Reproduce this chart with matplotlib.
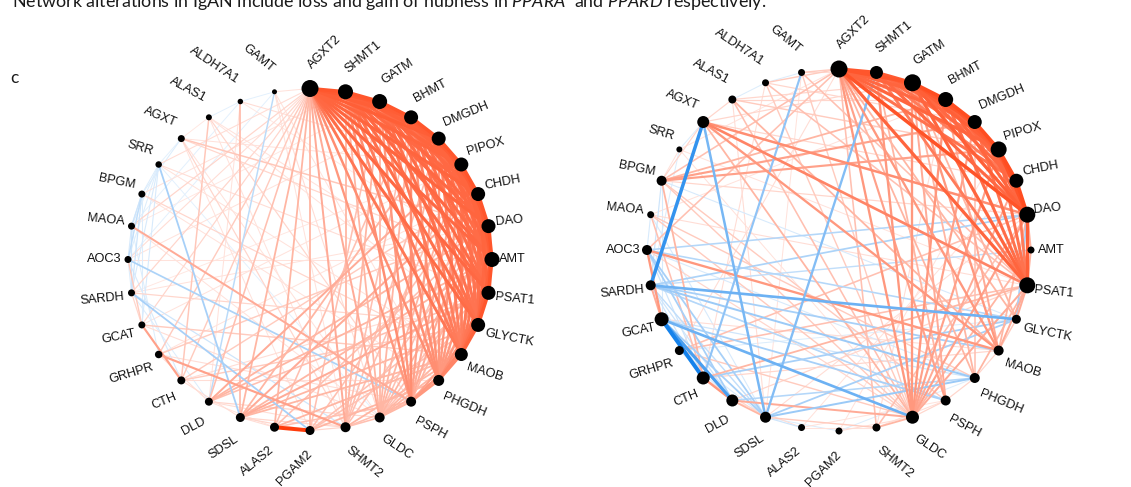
"""
IgAN 代谢网络对比图 (panel c)
左: 对照组网络, 右: IgAN 网络
"""

import numpy as np
import matplotlib
matplotlib.use('Agg')
import matplotlib.pyplot as plt

# ===== 数据 =====
genes = ["AGXT2", "SHMT1", "GATM", "BHMT", "DMGDH", "PIPOX", "CHDH", "DAO",
         "AMT", "PSAT1", "GLYCTK", "MAOB", "PHGDH", "PSPH", "GLDC", "SHMT2",
         "PGAM2", "ALAS2", "SDSL", "DLD", "CTH", "GRHPR", "GCAT", "SARDH",
         "AOC3", "MAOA", "BPGM", "SRR", "AGXT", "ALAS1", "ALDH7A1", "GAMT"]

# 节点直径 (hubness)
left_hub = [17, 15, 15, 14, 14, 14, 14, 14, 15, 14, 14, 13, 11, 10, 10, 10,
            9, 9, 9, 8, 8, 7.5, 7, 7, 7, 7, 7, 6.5, 7, 6, 5.5, 5]
right_hub = [17, 13, 17, 15, 14, 16, 14, 16, 7, 16, 9, 10, 10, 10, 13, 8,
             7, 7, 11, 12, 13, 9, 14, 10, 10, 7, 10, 6, 12, 8, 7, 7]

left_edges = [
    # hub 团
    ("AGXT2", "SHMT1", .80), ("AGXT2", "GATM", .78), ("AGXT2", "BHMT", .75),
    ("AGXT2", "DMGDH", .75), ("AGXT2", "PIPOX", .72), ("AGXT2", "CHDH", .72),
    ("AGXT2", "DAO", .72), ("AGXT2", "AMT", .70), ("AGXT2", "PSAT1", .70),
    ("AGXT2", "GLYCTK", .68), ("AGXT2", "MAOB", .62),
    ("SHMT1", "GATM", .80), ("SHMT1", "BHMT", .76), ("SHMT1", "DMGDH", .74),
    ("SHMT1", "PIPOX", .72), ("SHMT1", "CHDH", .70), ("SHMT1", "DAO", .70),
    ("SHMT1", "AMT", .70), ("SHMT1", "PSAT1", .68), ("SHMT1", "GLYCTK", .66),
    ("SHMT1", "MAOB", .60),
    ("GATM", "BHMT", .80), ("GATM", "DMGDH", .76), ("GATM", "PIPOX", .72),
    ("GATM", "CHDH", .70), ("GATM", "DAO", .70), ("GATM", "AMT", .68),
    ("GATM", "PSAT1", .68), ("GATM", "GLYCTK", .66), ("GATM", "MAOB", .60),
    ("BHMT", "DMGDH", .80), ("BHMT", "PIPOX", .76), ("BHMT", "CHDH", .72),
    ("BHMT", "DAO", .70), ("BHMT", "AMT", .68), ("BHMT", "PSAT1", .66),
    ("BHMT", "GLYCTK", .64), ("BHMT", "MAOB", .58),
    ("DMGDH", "PIPOX", .80), ("DMGDH", "CHDH", .76), ("DMGDH", "DAO", .72),
    ("DMGDH", "AMT", .70), ("DMGDH", "PSAT1", .66), ("DMGDH", "GLYCTK", .64),
    ("DMGDH", "MAOB", .58),
    ("PIPOX", "CHDH", .80), ("PIPOX", "DAO", .76), ("PIPOX", "AMT", .72),
    ("PIPOX", "PSAT1", .68), ("PIPOX", "GLYCTK", .64), ("PIPOX", "MAOB", .58),
    ("CHDH", "DAO", .80), ("CHDH", "AMT", .76), ("CHDH", "PSAT1", .72),
    ("CHDH", "GLYCTK", .66), ("CHDH", "MAOB", .60),
    ("DAO", "AMT", .80), ("DAO", "PSAT1", .76), ("DAO", "GLYCTK", .70),
    ("DAO", "MAOB", .62),
    ("AMT", "PSAT1", .80), ("AMT", "GLYCTK", .74), ("AMT", "MAOB", .64),
    ("PSAT1", "GLYCTK", .80), ("PSAT1", "MAOB", .68), ("GLYCTK", "MAOB", .72),
    # hub -> 下方节点
    ("PHGDH", "AGXT2", .50), ("PHGDH", "SHMT1", .50), ("PHGDH", "GATM", .50),
    ("PHGDH", "BHMT", .48), ("PHGDH", "DMGDH", .45), ("PHGDH", "PIPOX", .45),
    ("PHGDH", "CHDH", .45), ("PHGDH", "DAO", .45), ("PHGDH", "AMT", .45),
    ("PHGDH", "PSAT1", .50), ("PHGDH", "GLYCTK", .55), ("PHGDH", "MAOB", .55),
    ("PSPH", "AGXT2", .45), ("PSPH", "SHMT1", .50), ("PSPH", "GATM", .45),
    ("PSPH", "BHMT", .50), ("PSPH", "DMGDH", .40), ("PSPH", "PIPOX", .35),
    ("PSPH", "CHDH", .35), ("PSPH", "DAO", .30), ("PSPH", "GLYCTK", .40),
    ("PSPH", "MAOB", .45), ("PSPH", "PHGDH", .45),
    ("GLDC", "AGXT2", .35), ("GLDC", "SHMT1", .30), ("GLDC", "GATM", .30),
    ("GLDC", "BHMT", .30), ("GLDC", "DMGDH", .30), ("GLDC", "PIPOX", .30),
    ("GLDC", "CHDH", .25), ("GLDC", "DAO", .30), ("GLDC", "AMT", .25),
    ("GLDC", "PSAT1", .25), ("GLDC", "GLYCTK", .30), ("GLDC", "MAOB", .30),
    ("GLDC", "PHGDH", .30), ("GLDC", "PSPH", .30),
    ("SHMT2", "AGXT2", .35), ("SHMT2", "SHMT1", .30), ("SHMT2", "GATM", .30),
    ("SHMT2", "BHMT", .25), ("SHMT2", "DMGDH", .25), ("SHMT2", "PIPOX", .25),
    ("SHMT2", "DAO", .25), ("SHMT2", "MAOB", .30), ("SHMT2", "PSPH", .25),
    ("SHMT2", "GLDC", .25),
    ("PGAM2", "AGXT2", .30), ("PGAM2", "GATM", .25), ("PGAM2", "CHDH", .25),
    ("PGAM2", "PSAT1", .25), ("PGAM2", "PHGDH", .30), ("PGAM2", "GLYCTK", .25),
    ("ALAS2", "AGXT2", .30), ("ALAS2", "BHMT", .25), ("ALAS2", "DAO", .25),
    ("ALAS2", "MAOB", .30), ("ALAS2", "PSPH", .25), ("ALAS2", "PGAM2", .95),
    ("SDSL", "AGXT2", .30), ("SDSL", "DMGDH", .30), ("SDSL", "CHDH", .35),
    ("SDSL", "AMT", .30), ("SDSL", "PSAT1", .35), ("SDSL", "GLYCTK", .30),
    ("SDSL", "MAOB", .30),
    ("DLD", "AGXT2", .25), ("DLD", "PIPOX", .35), ("DLD", "DAO", .30),
    ("DLD", "AMT", .30), ("DLD", "PSAT1", .25),
    ("CTH", "AGXT2", .20), ("CTH", "CHDH", .20), ("CTH", "GLYCTK", .20),
    ("GRHPR", "AGXT2", .20), ("GRHPR", "SHMT2", .40), ("GRHPR", "DAO", .20),
    ("GCAT", "AGXT2", .15), ("GCAT", "CTH", .40), ("GCAT", "MAOB", .20),
    ("SARDH", "AGXT2", .15), ("SARDH", "PGAM2", -.30), ("SARDH", "SHMT2", -.15),
    ("SARDH", "GLYCTK", .15),
    ("AOC3", "PSPH", -.28), ("AOC3", "GCAT", .20), ("AOC3", "AGXT2", .12),
    ("MAOA", "PSPH", .35), ("MAOA", "AGXT2", .15), ("MAOA", "BPGM", -.15),
    ("MAOA", "SARDH", -.15),
    ("BPGM", "AOC3", -.20), ("BPGM", "SARDH", -.15), ("BPGM", "MAOB", .15),
    ("SRR", "SDSL", -.30), ("SRR", "PSAT1", .12), ("SRR", "AGXT2", .12),
    ("SRR", "GCAT", -.12),
    ("AGXT", "DAO", .22), ("AGXT", "AMT", .15), ("AGXT", "SHMT2", .15),
    ("ALAS1", "CTH", .22), ("ALAS1", "PSPH", .15),
    ("ALDH7A1", "SDSL", .28), ("ALDH7A1", "PIPOX", .12),
    ("GAMT", "DLD", -.22), ("GAMT", "AGXT2", .10), ("GAMT", "GLDC", .12),
    # 背景弱连接
    ("BPGM", "PHGDH", .10), ("SRR", "MAOB", .10), ("AGXT", "GLDC", .10),
    ("ALAS1", "PSAT1", .10), ("ALDH7A1", "DLD", .10), ("GAMT", "SHMT2", .10),
    ("MAOA", "GLDC", .10), ("AOC3", "AMT", .10), ("SARDH", "DAO", .10),
    ("GCAT", "PIPOX", .10), ("GRHPR", "CHDH", .10), ("CTH", "PSAT1", .12),
    ("DLD", "GLDC", .15), ("SDSL", "SHMT2", .15), ("CTH", "SDSL", .12),
    ("GRHPR", "DLD", .12), ("GCAT", "SARDH", .15), ("SRR", "BPGM", -.10),
    ("BPGM", "MAOA", -.12), ("MAOA", "AOC3", -.12), ("AOC3", "SARDH", -.10),
    ("SRR", "MAOA", -.10), ("SRR", "AOC3", -.10), ("AGXT", "SRR", -.08),
    ("ALDH7A1", "ALAS1", -.08), ("ALAS1", "AGXT", .08), ("GAMT", "ALDH7A1", -.08),
    ("BPGM", "SHMT1", .10), ("MAOA", "GATM", .08), ("AOC3", "BHMT", .10),
    ("SARDH", "PIPOX", .08), ("GCAT", "GLDC", .12), ("GRHPR", "PSPH", .12),
    ("CTH", "PHGDH", .12), ("DLD", "SHMT2", .12), ("SDSL", "PGAM2", .15),
    ("ALAS2", "SDSL", .12), ("ALAS2", "DLD", .10), ("PGAM2", "SHMT2", .15),
    ("AGXT", "BPGM", -.10), ("SRR", "SARDH", -.12), ("BPGM", "GCAT", -.10),
    ("MAOA", "GRHPR", -.10), ("AOC3", "CTH", -.12), ("SARDH", "DLD", -.10),
    ("SRR", "GLDC", -.08), ("GAMT", "AOC3", -.08), ("ALDH7A1", "MAOA", -.08),
    ("ALAS1", "GLYCTK", .10), ("AGXT", "PIPOX", .10), ("ALDH7A1", "AMT", .08),
    ("GAMT", "PHGDH", .10), ("ALAS1", "SHMT2", .10), ("AGXT", "PGAM2", .10),
]

right_edges = [
    # hub 团
    ("AGXT2", "SHMT1", .80), ("AGXT2", "GATM", .80), ("AGXT2", "BHMT", .72),
    ("AGXT2", "DMGDH", .70), ("AGXT2", "PIPOX", .72), ("AGXT2", "CHDH", .65),
    ("AGXT2", "DAO", .82), ("AGXT2", "PSAT1", .72),
    ("SHMT1", "GATM", .78), ("SHMT1", "BHMT", .75), ("SHMT1", "DMGDH", .70),
    ("SHMT1", "PIPOX", .65), ("SHMT1", "CHDH", .60), ("SHMT1", "DAO", .70),
    ("SHMT1", "PSAT1", .60),
    ("GATM", "BHMT", .85), ("GATM", "DMGDH", .80), ("GATM", "PIPOX", .75),
    ("GATM", "CHDH", .70), ("GATM", "DAO", .75), ("GATM", "PSAT1", .72),
    ("BHMT", "DMGDH", .85), ("BHMT", "PIPOX", .78), ("BHMT", "CHDH", .70),
    ("BHMT", "DAO", .72), ("BHMT", "PSAT1", .68),
    ("DMGDH", "PIPOX", .85), ("DMGDH", "CHDH", .75), ("DMGDH", "DAO", .70),
    ("DMGDH", "PSAT1", .65),
    ("PIPOX", "CHDH", .85), ("PIPOX", "DAO", .82), ("PIPOX", "PSAT1", .65),
    ("CHDH", "DAO", .85), ("CHDH", "PSAT1", .60), ("DAO", "PSAT1", .75),
    # GLDC 扇形
    ("GLDC", "AGXT2", .45), ("GLDC", "SHMT1", .45), ("GLDC", "GATM", .45),
    ("GLDC", "BHMT", .45), ("GLDC", "DMGDH", .40), ("GLDC", "PIPOX", .40),
    ("GLDC", "CHDH", .35), ("GLDC", "DAO", .40), ("GLDC", "AMT", .30),
    ("GLDC", "PSAT1", .35), ("GLDC", "AGXT", .30), ("GLDC", "BPGM", .20),
    # 其他
    ("AGXT", "PSAT1", .55), ("AGXT", "DAO", .50), ("AGXT", "MAOB", .45),
    ("AGXT", "SARDH", -.80), ("AGXT", "SDSL", -.50), ("AGXT", "BPGM", .15),
    ("AGXT", "ALAS1", .15),
    ("PSAT1", "GLYCTK", .35), ("PSAT1", "MAOB", .35), ("PSAT1", "PHGDH", .30),
    ("AOC3", "MAOB", .45), ("AOC3", "GCAT", .45), ("AOC3", "DLD", -.30),
    ("AOC3", "SDSL", -.30), ("AOC3", "AGXT2", .25),
    ("BPGM", "DMGDH", .40), ("BPGM", "PIPOX", .40), ("BPGM", "BHMT", .30),
    ("BPGM", "AGXT2", .25), ("BPGM", "PSPH", .20), ("BPGM", "CTH", .30),
    ("SARDH", "GLYCTK", -.55), ("SARDH", "PHGDH", -.35), ("SARDH", "MAOB", -.30),
    ("SARDH", "DAO", -.28), ("SARDH", "SDSL", -.20),
    ("GCAT", "CTH", -.95), ("GCAT", "DLD", -.70), ("GCAT", "GLDC", -.55),
    ("GCAT", "PSPH", -.30), ("GCAT", "SDSL", -.30), ("GCAT", "SARDH", .35),
    ("CTH", "DLD", .45), ("CTH", "GLYCTK", -.30), ("CTH", "PSAT1", .30),
    ("DLD", "GLDC", .35), ("DLD", "SDSL", .30), ("DLD", "PHGDH", -.25),
    ("SDSL", "SHMT1", -.45), ("SDSL", "PHGDH", -.35), ("SDSL", "GLYCTK", -.30),
    ("SDSL", "SHMT2", .20), ("SDSL", "ALAS2", -.15),
    ("GAMT", "CTH", -.40), ("GAMT", "AGXT2", .20), ("GAMT", "PSAT1", .25),
    ("GAMT", "GLDC", .20),
    ("ALAS1", "MAOB", .30), ("ALAS1", "GLDC", .25), ("ALAS1", "PIPOX", .20),
    ("ALDH7A1", "PSAT1", .25), ("ALDH7A1", "GLDC", .20), ("ALDH7A1", "AGXT2", .20),
    ("MAOA", "GLDC", .20), ("MAOA", "PHGDH", .20), ("MAOA", "CTH", .25),
    ("GRHPR", "DAO", .25), ("GRHPR", "PSAT1", .25), ("GRHPR", "GLDC", .20),
    ("PHGDH", "AGXT2", .30), ("PHGDH", "GATM", .30), ("PHGDH", "DMGDH", .25),
    ("PSPH", "AGXT2", .40), ("PSPH", "GATM", .35), ("PSPH", "SHMT1", .30),
    ("PSPH", "SARDH", -.25),
    ("MAOB", "AGXT2", .45), ("MAOB", "GATM", .45), ("MAOB", "BHMT", .35),
    ("MAOB", "DAO", .30),
    ("GLYCTK", "DAO", -.30), ("GLYCTK", "AGXT2", .30), ("GLYCTK", "GATM", .30),
    ("GLYCTK", "AOC3", -.25),
    ("AMT", "DAO", .30), ("AMT", "PSAT1", .30), ("AMT", "SARDH", -.20),
    ("SHMT2", "GLDC", .30), ("SHMT2", "AGXT2", .25), ("SHMT2", "DAO", .25),
    ("DAO", "AOC3", -.25),
    # 背景弱连接
    ("SRR", "PSAT1", .10), ("SRR", "GLDC", .10), ("SRR", "SARDH", -.10),
    ("SRR", "BPGM", .10), ("MAOA", "AOC3", -.12), ("MAOA", "SDSL", -.12),
    ("BPGM", "SARDH", -.15), ("BPGM", "GCAT", -.12), ("AOC3", "CTH", -.15),
    ("SARDH", "CTH", -.15), ("SARDH", "DLD", -.15), ("GRHPR", "SDSL", -.12),
    ("GRHPR", "DLD", -.12), ("CTH", "SDSL", .15), ("DLD", "ALAS2", .12),
    ("SDSL", "PGAM2", -.10), ("ALAS2", "SHMT2", .10), ("PGAM2", "GLDC", .12),
    ("ALAS2", "PSPH", .10), ("PGAM2", "PHGDH", -.10), ("SHMT2", "PSPH", .12),
    ("GLDC", "PSPH", .15), ("PSPH", "PHGDH", .15), ("PHGDH", "MAOB", .15),
    ("MAOB", "GLYCTK", .20), ("GLYCTK", "AMT", -.12), ("AMT", "CHDH", .15),
    ("ALAS1", "BHMT", .15), ("ALAS1", "GATM", .15), ("ALDH7A1", "DMGDH", .15),
    ("GAMT", "SHMT1", .12), ("AGXT", "CHDH", .15), ("AGXT", "GATM", .15),
    ("BPGM", "DAO", .15), ("MAOA", "PSAT1", .12), ("AOC3", "GLDC", .15),
    ("SARDH", "PSPH", -.12), ("GCAT", "PHGDH", -.15), ("GCAT", "MAOB", .12),
    ("CTH", "MAOB", .15), ("DLD", "PSAT1", .15), ("SDSL", "DAO", .12),
    ("ALAS2", "CHDH", .10), ("PGAM2", "PIPOX", .10), ("SHMT2", "BHMT", .12),
    ("ALAS1", "ALDH7A1", -.10), ("GAMT", "ALDH7A1", -.10), ("AGXT", "SRR", -.10),
    ("ALAS1", "SDSL", .12), ("ALDH7A1", "CTH", .12), ("GAMT", "SDSL", .10),
    ("MAOA", "BHMT", .10), ("SRR", "AGXT2", .10), ("BPGM", "GLYCTK", -.12),
    ("AOC3", "PHGDH", -.12), ("GRHPR", "AGXT2", .12), ("GRHPR", "GLYCTK", -.10),
]

caption = (r"Network alterations in IgAN include loss and gain of hubness in "
           r"$\mathit{PPARA}$  and $\mathit{PPARD}$ respectively.")
panel_letter = "c"

# ===== 样式 =====
RED = (1.0, 0.2, 0.0)
BLUE = (0.04, 0.49, 0.92)


def edge_style(w):
    t = min(abs(w), 1.0) ** 0.85
    base = RED if w > 0 else BLUE
    color = tuple(1 - t * (1 - c) for c in base)
    lw = (0.5 + 3.6 * t) * 0.72
    return color, lw


def draw_network(ax, cx, cy, rx, ry, hub, edges):
    n = len(genes)
    ang = {}
    pos = {}
    for i, g in enumerate(genes):
        a = 90 - i * 360 / n
        th = np.deg2rad(a)
        ang[g] = a % 360
        pos[g] = (cx + rx * np.cos(th), cy - ry * np.sin(th))

    # 边: 弱的先画
    for a, b, w in sorted(edges, key=lambda e: abs(e[2])):
        color, lw = edge_style(w)
        (x1, y1), (x2, y2) = pos[a], pos[b]
        ax.plot([x1, x2], [y1, y2], color=color, lw=lw,
                solid_capstyle='round', zorder=1 + abs(w))

    xs = [pos[g][0] for g in genes]
    ys = [pos[g][1] for g in genes]
    ax.scatter(xs, ys, s=[(d * 0.72) ** 2 for d in hub], color='black',
               linewidths=0, zorder=5)

    # 标签
    for g in genes:
        a = ang[g]
        th = np.deg2rad(a)
        x, y = pos[g]
        tx = x + 7 * np.cos(th)
        ty = y - 22 * np.sin(th)
        if a <= 90 or a > 270:
            rot = (a if a <= 90 else a - 360) / 2
            ha = 'left'
        else:
            rot = (a - 180) / 2
            ha = 'right'
        ax.text(tx, ty, g, rotation=rot, rotation_mode='anchor', ha=ha,
                va='center', fontsize=9.2, family='Liberation Sans',
                color='#111111', zorder=6)


plt.rcParams['mathtext.fontset'] = 'custom'
plt.rcParams['mathtext.rm'] = 'Lato'
plt.rcParams['mathtext.it'] = 'Lato:italic'

W, H = 1131, 487
fig = plt.figure(figsize=(W / 100, H / 100), dpi=100)
ax = fig.add_axes([0, 0, 1, 1])
ax.set_xlim(0, W)
ax.set_ylim(H, 0)
ax.axis('off')

draw_network(ax, 310, 259.5, 182, 171, left_hub, left_edges)
draw_network(ax, 839, 250, 192, 181, right_hub, right_edges)

ax.text(12, 7.5, caption, fontsize=12.9, family='Lato', color='#1a1a1a',
        va='baseline', ha='left', clip_on=False)
ax.text(10, 78, panel_letter, fontsize=12.5, family='Lato', color='#1a1a1a',
        va='center', ha='left')

fig.savefig('out.png', dpi=100, facecolor='white')
